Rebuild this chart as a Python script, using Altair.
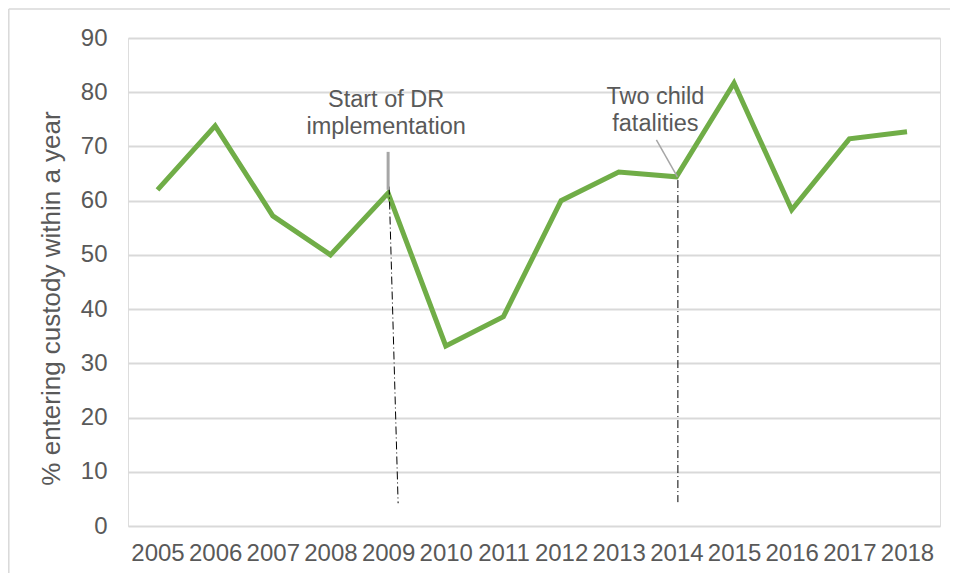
import altair as alt
import pandas as pd

years = ["2005", "2006", "2007", "2008", "2009", "2010", "2011",
         "2012", "2013", "2014", "2015", "2016", "2017", "2018"]
values = [62.0, 73.8, 57.2, 50.0, 61.4, 33.2, 38.6,
          60.0, 65.3, 64.4, 81.7, 58.3, 71.4, 72.7]

dr_text = ["Start of DR", "implementation"]
dr_text_y = [77.3, 72.3]
fat_text = ["Two child", "fatalities"]
fat_text_y = [77.9, 72.85]

# event markers: year, top value, bottom value
event_years = ["2009", "2014"]
event_top = [62.6, 63.8]
event_bottom = [4.2, 4.4]

TXT = "#595959"
FONT = "Liberation Sans"
FS = 24
AFS = 23.5

df = pd.DataFrame({"year": years, "value": values})

x_scale = alt.Scale(type="point", domain=years, padding=0.542, align=0.472)
y_scale = alt.Scale(domain=[0, 90])

base = alt.Chart(df)

line = base.mark_line(color="#70ad47", strokeWidth=5, strokeJoin="miter").encode(
    x=alt.X("year:O", scale=x_scale, title=None,
            axis=alt.Axis(labelAngle=0, labelFontSize=FS, labelColor=TXT,
                          labelFont=FONT, labelPadding=15, ticks=False,
                          domain=False, grid=False)),
    y=alt.Y("value:Q", scale=y_scale,
            title="% entering custody within a year",
            axis=alt.Axis(values=list(range(0, 91, 10)), labelFontSize=FS,
                          labelColor=TXT, labelFont=FONT, labelPadding=21,
                          ticks=False, domain=False, grid=True,
                          gridColor="#d9d9d9", gridWidth=2,
                          titleFontSize=26, titleColor=TXT, titleFont=FONT,
                          titleFontWeight="normal", titleAngle=-90,
                          titleAlign="center", titleBaseline="middle",
                          titleX=-77, titleY=260)),
)

# dash-dot event lines
ev_df = pd.DataFrame({"year": event_years, "top": event_top, "bottom": event_bottom})
dr_dash = alt.Chart(ev_df[ev_df.year == "2009"]).mark_rule(
    color="black", strokeWidth=1, strokeDash=[8, 3, 1, 3], xOffset=1, x2Offset=10
).encode(
    x=alt.X("year:O", scale=x_scale), x2="year:O",
    y=alt.Y("top:Q", scale=y_scale), y2="bottom:Q",
)
fat_dash = alt.Chart(ev_df[ev_df.year == "2014"]).mark_rule(
    color="black", strokeWidth=1, strokeDash=[8, 3, 1, 3], xOffset=1.5, x2Offset=1.5
).encode(
    x=alt.X("year:O", scale=x_scale), x2="year:O",
    y=alt.Y("top:Q", scale=y_scale), y2="bottom:Q",
)

# grey leader lines
dr_leader_df = pd.DataFrame({"year": ["2009"], "top": [69.0], "bottom": [62.0]})
dr_leader = alt.Chart(dr_leader_df).mark_rule(color="#a6a6a6", strokeWidth=3).encode(
    x=alt.X("year:O", scale=x_scale), y=alt.Y("top:Q", scale=y_scale), y2="bottom:Q",
)
fat_leader_df = pd.DataFrame({"year": ["2014"], "top": [71.2], "bottom": [64.4]})
fat_leader = alt.Chart(fat_leader_df).mark_rule(
    color="#a6a6a6", strokeWidth=1.5, xOffset=-20, x2Offset=1
).encode(
    x=alt.X("year:O", scale=x_scale), x2="year:O",
    y=alt.Y("top:Q", scale=y_scale), y2="bottom:Q",
)

# annotation texts
dr_df = pd.DataFrame({"year": ["2009"] * 2, "label": dr_text, "y": dr_text_y})
dr_txt = alt.Chart(dr_df).mark_text(
    fontSize=AFS, color=TXT, font=FONT, align="center", baseline="alphabetic", dx=-2
).encode(x=alt.X("year:O", scale=x_scale), y=alt.Y("y:Q", scale=y_scale), text="label:N")

fat_df = pd.DataFrame({"year": ["2014"] * 2, "label": fat_text, "y": fat_text_y})
fat_txt = alt.Chart(fat_df).mark_text(
    fontSize=AFS, color=TXT, font=FONT, align="center", baseline="alphabetic", dx=-21
).encode(x=alt.X("year:O", scale=x_scale), y=alt.Y("y:Q", scale=y_scale), text="label:N")

# outer chart frame (decoration): left and top edges, kept inside the canvas
frame_df = pd.DataFrame({"k": [0]})
frame_left = alt.Chart(frame_df).mark_rule(color="#d9d9d9", strokeWidth=1.5, clip=False).encode(
    x=alt.value(-119.2), y=alt.value(-29), y2=alt.value(535)
)
frame_top = alt.Chart(frame_df).mark_rule(color="#d9d9d9", strokeWidth=1.5, clip=False).encode(
    x=alt.value(-119.2), x2=alt.value(822), y=alt.value(-29)
)

chart = alt.layer(
    frame_left, frame_top, line, dr_dash, fat_dash, dr_leader, fat_leader, dr_txt, fat_txt
).properties(
    width=812, height=488,
    autosize=alt.AutoSizeParams(type="none"),
    padding={"left": 120, "top": 30, "right": 10, "bottom": 47},
).configure_view(stroke=None).configure(background="white")

chart.save("out.html", embed_options={"renderer": "svg", "actions": False})
